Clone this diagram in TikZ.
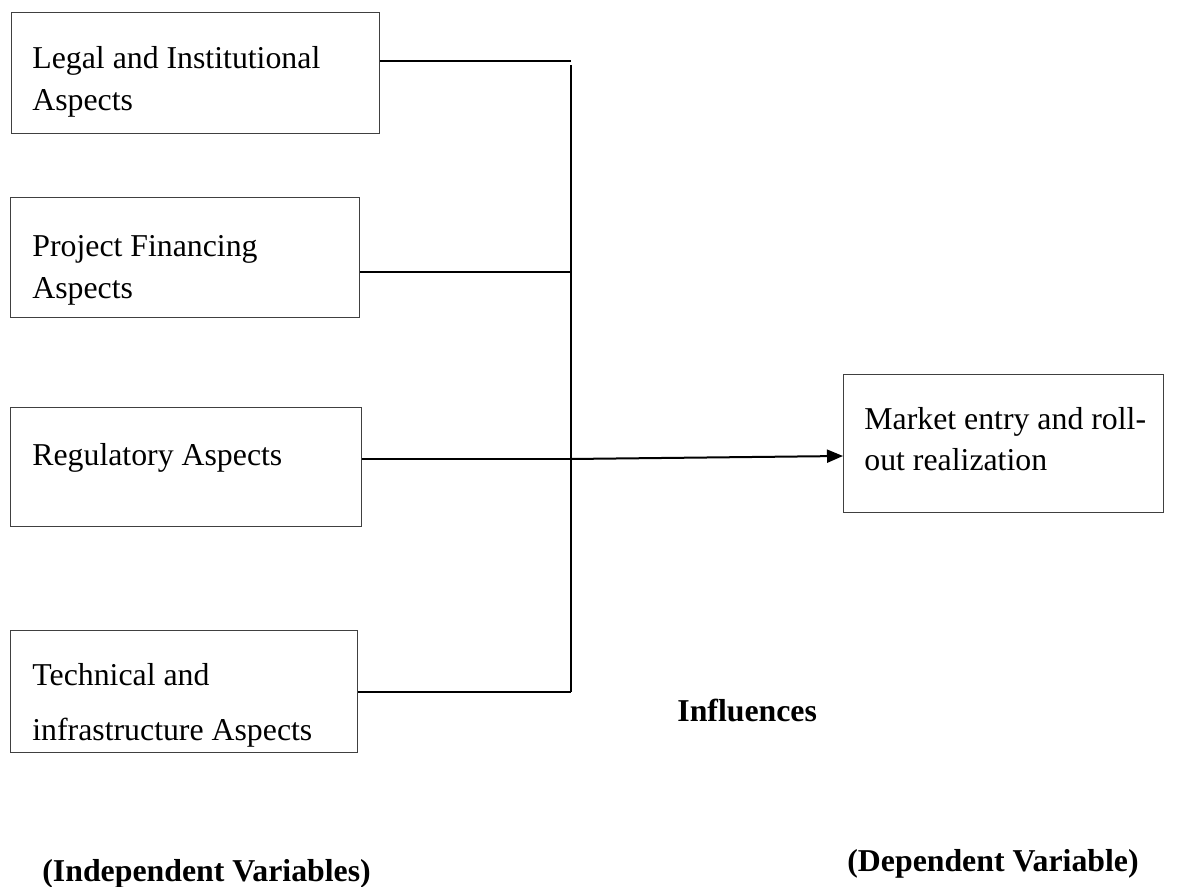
\documentclass[tikz,border=0pt]{standalone}
\usepackage{fontspec}
\setmainfont{Liberation Serif}
\usetikzlibrary{arrows.meta,positioning}
\tikzset{
  varbox/.style={draw=black!75, line width=0.7pt, anchor=north west, inner sep=0pt},
  vartext/.style={anchor=north west, inner sep=0pt, align=left, font=\fontsize{15.9}{21}\selectfont},
  link/.style={line width=1pt},
  caption/.style={anchor=base west, inner sep=0pt, font=\fontsize{15.9}{19}\selectfont\bfseries}
}
\begin{document}
\begin{tikzpicture}[x=0.5pt, y=-0.5pt]
  \useasboundingbox (0,0) rectangle (1195,887);

  \node[varbox, minimum width=184pt, minimum height=60.5pt] (legal) at (11,12) {};
  \node[varbox, minimum width=174.5pt, minimum height=60pt] (finance) at (10,197) {};
  \node[varbox, minimum width=175.5pt, minimum height=59.5pt] (regul) at (10,407) {};
  \node[varbox, minimum width=173.5pt, minimum height=61pt] (tech) at (10,630) {};
  \node[varbox, minimum width=160pt, minimum height=69pt] (market) at (843,374) {};

  \node[vartext] (legaltext) at (32,46) {Legal and Institutional\\Aspects};
  \node[vartext] (financetext) at (32,235) {Project Financing\\Aspects};
  \node[vartext] (regultext) at (32,443) {Regulatory Aspects};
  \node[vartext, font=\fontsize{15.9}{27.5}\selectfont] (techtext) at (32,663) {Technical and\\infrastructure Aspects};
  \node[vartext, font=\fontsize{15.9}{20.5}\selectfont] (markettext) at (864,407) {Market entry and roll-\\out realization};

  % bus
  \coordinate (j1) at (571,61);
  \coordinate (bustop) at (571,65);
  \coordinate (j2) at (571,272);
  \coordinate (j3) at (571,459);
  \coordinate (j4) at (571,692);
  \coordinate (tip) at (843,456);

  \draw[link] (legal.east |- j1) -- (j1);
  \draw[link] (finance.east |- j2) -- (j2);
  \draw[link] (regul.east |- j3) -- (j3);
  \draw[link] (tech.east |- j4) -- (j4);
  \draw[link] (bustop) -- (j4);
  \draw[link, -{Triangle[length=8pt, width=6.5pt]}] (j3) -- (tip);

  \node[caption] (influences) at (677,721) {Influences};
  \node[caption] (indep) at (42,881) {(Independent Variables)};
  \node[caption] (dep) at (847,871) {(Dependent Variable)};
\end{tikzpicture}
\end{document}
